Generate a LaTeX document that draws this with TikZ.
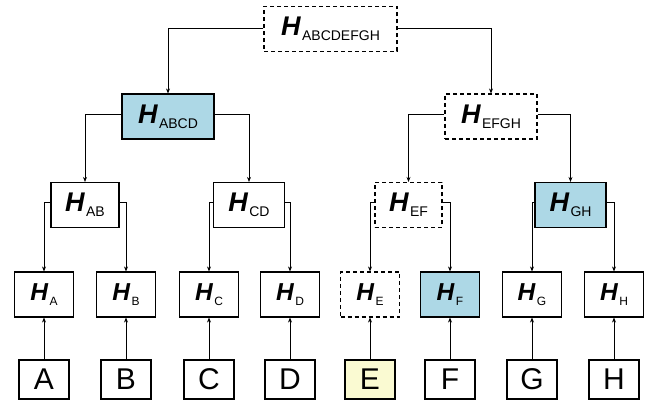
\documentclass[tikz,border=0pt]{standalone}
\usepackage{fontspec}
\setmainfont{Liberation Sans}
\usetikzlibrary{arrows.meta}
\definecolor{hashblue}{RGB}{173,216,230}
\definecolor{leafyellow}{RGB}{250,250,210}
% hash label: bold italic H with a plain subscript
\newcommand{\hsh}[1]{{\fontsize{27}{27}\selectfont\bfseries\itshape H}\kern1.5pt\raisebox{-5pt}{\fontsize{14}{14}\selectfont #1}}
% smaller hash label for the leaf level
\newcommand{\hsl}[1]{{\fontsize{24.5}{24.5}\selectfont\bfseries\itshape H}\kern1.5pt\raisebox{-5pt}{\fontsize{12}{12}\selectfont #1}}
\tikzset{
  hbox/.style={draw, line width=1.1pt, inner sep=0pt, minimum height=45pt},
  dbox/.style={hbox, dash pattern=on 4pt off 3pt},
  bbox/.style={hbox, fill=hashblue},
  databox/.style={draw, line width=1.1pt, inner sep=0pt, minimum width=50pt, minimum height=39pt,
    font=\fontsize{30}{30}\selectfont},
  plain/.style={},
  yel/.style={fill=leafyellow},
  link/.style={line width=0.7pt, -{Stealth[length=5pt,width=4pt]}}
}
\begin{document}
\begin{tikzpicture}[x=1pt,y=-1pt]
\useasboundingbox (0,0) rectangle (649,403);
% root
\node[dbox, minimum width=133pt] (r) at (330.5,29) {\hsh{ABCDEFGH}};
% second level
\node[bbox, minimum width=92pt] (abcd) at (168,116.5) {\hsh{ABCD}};
\node[dbox, minimum width=92pt] (efgh) at (491,116.5) {\hsh{EFGH}};
% third level
\node[hbox, minimum width=68pt] (ab) at (85,205) {\hsh{AB}};
\node[hbox, minimum width=71pt] (cd) at (249,205) {\hsh{CD}};
\node[dbox, minimum width=67pt] (ef) at (408.5,205) {\hsh{EF}};
\node[bbox, minimum width=71pt] (gh) at (570.5,205) {\hsh{GH}};
% leaf hashes and data blocks
\foreach \n/\x/\st/\dst in {A/44/hbox/plain, B/126/hbox/plain, C/209/hbox/plain, D/290/hbox/plain,
                            E/370/dbox/yel, F/450/bbox/plain, G/532/hbox/plain, H/614/hbox/plain}{
  \node[\st, minimum width=59pt] (h\n) at (\x,294.5) {\hsl{\n}};
  \node[databox, \dst] (d\n) at (\x,379.5) {\n};
  \draw[link] (d\n.north) -- (h\n.south);
}
% parent-to-child connectors
\draw[link] ([yshift=1pt]r.west) -| (abcd.north);
\draw[link] ([yshift=1pt]r.east) -| (efgh.north);
\draw[link] ([yshift=2pt]abcd.west) -| (ab.north);
\draw[link] ([yshift=2pt]abcd.east) -| (cd.north);
\draw[link] ([yshift=2pt]efgh.west) -| (ef.north);
\draw[link] ([yshift=2pt]efgh.east) -| (gh.north);
\draw[link] ([yshift=3pt]ab.west) -| (hA.north);
\draw[link] ([yshift=3pt]ab.east) -| (hB.north);
\draw[link] ([yshift=3pt]cd.west) -| (hC.north);
\draw[link] ([yshift=3pt]cd.east) -| (hD.north);
\draw[link] ([yshift=3pt]ef.west) -| (hE.north);
\draw[link] ([yshift=3pt]ef.east) -| (hF.north);
\draw[link] ([yshift=3pt]gh.west) -| (hG.north);
\draw[link] ([yshift=3pt]gh.east) -| (hH.north);
\end{tikzpicture}
\end{document}
